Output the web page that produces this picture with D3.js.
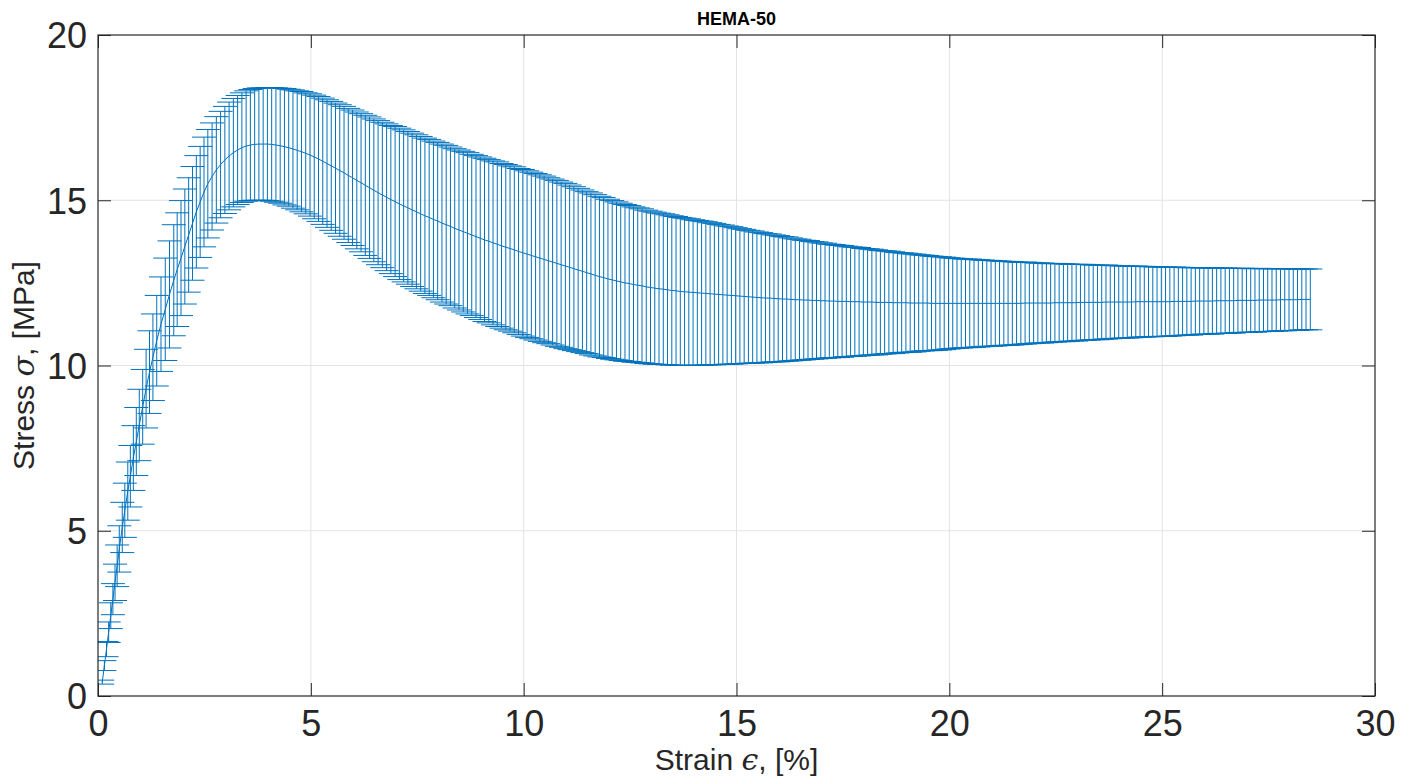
<!DOCTYPE html>
<html>
<head>
<meta charset="utf-8">
<script src="https://cdn.jsdelivr.net/npm/d3@7"></script>
<style>
  html, body { margin: 0; padding: 0; background: #fff; }
  #my_dataviz { width: 1417px; height: 782px; }
  text { font-family: "Liberation Sans", Arial, Helvetica, sans-serif; }
</style>
</head>
<body>
<div id="my_dataviz"></div>
<script>
// averaged tensile test, HEMA-50
var strain = [
  0.10, 0.15, 0.20, 0.25, 0.30, 0.35, 0.40, 0.45, 0.50, 0.57, 0.63, 0.70, 0.76, 0.83, 0.90, 0.97,
  1.05, 1.13, 1.21, 1.29, 1.38, 1.48, 1.58, 1.68, 1.78, 1.86, 1.95, 2.04, 2.13, 2.22, 2.31, 2.40,
  2.49, 2.58, 2.68, 2.78, 2.88, 2.98,
  3.08, 3.18, 3.28, 3.38, 3.48, 3.58, 3.68, 3.78, 3.88, 3.98,
  4.08, 4.18, 4.28, 4.38, 4.48, 4.58, 4.68, 4.78, 4.88, 4.98,
  5.08, 5.18, 5.28, 5.38, 5.48, 5.58, 5.68, 5.78, 5.88, 5.98,
  6.08, 6.18, 6.28, 6.38, 6.48, 6.58, 6.68, 6.78, 6.88, 6.98,
  7.08, 7.18, 7.28, 7.38, 7.48, 7.58, 7.68, 7.78, 7.88, 7.98,
  8.08, 8.18, 8.28, 8.38, 8.48, 8.58, 8.68, 8.78, 8.88, 8.98,
  9.08, 9.18, 9.28, 9.38, 9.48, 9.58, 9.68, 9.78, 9.88, 9.98,
  10.08, 10.18, 10.28, 10.38, 10.48, 10.58, 10.68, 10.78, 10.88, 10.98,
  11.08, 11.18, 11.28, 11.38, 11.48, 11.58, 11.68, 11.78, 11.88, 11.98,
  12.08, 12.18, 12.28, 12.38, 12.48, 12.58, 12.68, 12.78, 12.88, 12.98,
  13.08, 13.18, 13.28, 13.38, 13.48, 13.58, 13.68, 13.78, 13.88, 13.98,
  14.08, 14.18, 14.28, 14.38, 14.48, 14.58, 14.68, 14.78, 14.88, 14.98,
  15.08, 15.18, 15.28, 15.38, 15.48, 15.58, 15.68, 15.78, 15.88, 15.98,
  16.08, 16.18, 16.28, 16.38, 16.48, 16.58, 16.68, 16.78, 16.88, 16.98,
  17.08, 17.18, 17.28, 17.38, 17.48, 17.58, 17.68, 17.78, 17.88, 17.98,
  18.08, 18.18, 18.28, 18.38, 18.48, 18.58, 18.68, 18.78, 18.88, 18.98,
  19.08, 19.18, 19.28, 19.38, 19.48, 19.58, 19.68, 19.78, 19.88, 19.98,
  20.08, 20.18, 20.28, 20.38, 20.48, 20.58, 20.68, 20.78, 20.88, 20.98,
  21.08, 21.18, 21.28, 21.38, 21.48, 21.58, 21.68, 21.78, 21.88, 21.98,
  22.08, 22.18, 22.28, 22.38, 22.48, 22.58, 22.68, 22.78, 22.88, 22.98,
  23.08, 23.18, 23.28, 23.38, 23.48, 23.58, 23.68, 23.78, 23.88, 23.98,
  24.08, 24.18, 24.28, 24.38, 24.48, 24.58, 24.68, 24.78, 24.88, 24.98,
  25.08, 25.18, 25.28, 25.38, 25.48, 25.58, 25.68, 25.78, 25.88, 25.98,
  26.08, 26.18, 26.28, 26.38, 26.48, 26.58, 26.68, 26.78, 26.88, 26.98,
  27.08, 27.18, 27.28, 27.38, 27.48, 27.58, 27.68, 27.78, 27.88, 27.98,
  28.08, 28.18, 28.28, 28.38, 28.48
];

// mean stress [MPa]
var stressMean = [
  0.42, 0.92, 1.42, 1.93, 2.43, 2.93, 3.44, 3.94, 4.45, 5.10, 5.62, 6.20, 6.65, 7.20, 7.70, 8.20,
  8.75, 9.30, 9.80, 10.25, 10.75, 11.25, 11.70, 12.15, 12.58, 12.90, 13.25, 13.60, 13.95, 14.30, 14.65, 14.95,
  15.25, 15.50, 15.72, 15.92, 16.08, 16.22,
  16.34, 16.44, 16.52, 16.59, 16.64, 16.67, 16.69, 16.70, 16.70, 16.70,
  16.69, 16.67, 16.65, 16.62, 16.59, 16.55, 16.51, 16.47, 16.42, 16.37,
  16.31, 16.25, 16.18, 16.11, 16.04, 15.97, 15.90, 15.83, 15.75, 15.68,
  15.60, 15.53, 15.45, 15.38, 15.30, 15.23, 15.16, 15.09, 15.02, 14.96,
  14.89, 14.83, 14.77, 14.71, 14.65, 14.59, 14.53, 14.48, 14.42, 14.37,
  14.31, 14.26, 14.21, 14.15, 14.10, 14.05, 14.00, 13.95, 13.90, 13.85,
  13.80, 13.76, 13.71, 13.67, 13.62, 13.58, 13.54, 13.50, 13.45, 13.41,
  13.37, 13.33, 13.29, 13.25, 13.21, 13.17, 13.13, 13.09, 13.05, 13.01,
  12.97, 12.93, 12.89, 12.85, 12.81, 12.77, 12.73, 12.69, 12.66, 12.62,
  12.59, 12.56, 12.53, 12.50, 12.48, 12.45, 12.43, 12.41, 12.38, 12.36,
  12.34, 12.32, 12.31, 12.29, 12.27, 12.26, 12.24, 12.23, 12.22, 12.21,
  12.20, 12.19, 12.18, 12.17, 12.16, 12.15, 12.14, 12.13, 12.12, 12.11,
  12.10, 12.09, 12.08, 12.07, 12.06, 12.05, 12.04, 12.04, 12.03, 12.02,
  12.01, 12.01, 12.00, 11.99, 11.99, 11.98, 11.98, 11.97, 11.97, 11.96,
  11.96, 11.95, 11.95, 11.94, 11.94, 11.94, 11.93, 11.93, 11.93, 11.92,
  11.92, 11.92, 11.91, 11.91, 11.91, 11.91, 11.90, 11.90, 11.90, 11.90,
  11.89, 11.89, 11.89, 11.89, 11.89, 11.88, 11.88, 11.88, 11.88, 11.88,
  11.88, 11.88, 11.88, 11.88, 11.88, 11.88, 11.88, 11.88, 11.88, 11.88,
  11.88, 11.88, 11.88, 11.88, 11.88, 11.88, 11.88, 11.89, 11.89, 11.89,
  11.89, 11.89, 11.89, 11.89, 11.90, 11.90, 11.90, 11.90, 11.90, 11.90,
  11.91, 11.91, 11.91, 11.91, 11.91, 11.91, 11.92, 11.92, 11.92, 11.92,
  11.92, 11.92, 11.92, 11.93, 11.93, 11.93, 11.93, 11.93, 11.93, 11.93,
  11.93, 11.93, 11.94, 11.94, 11.94, 11.94, 11.94, 11.95, 11.95, 11.95,
  11.95, 11.95, 11.96, 11.96, 11.96, 11.96, 11.96, 11.97, 11.97, 11.97,
  11.97, 11.97, 11.98, 11.98, 11.98, 11.98, 11.98, 11.99, 11.99, 11.99,
  11.99, 11.99, 12.00, 12.00, 12.00
];

// standard deviation of stress [MPa]
var stressErr = [
  0.06, 0.15, 0.23, 0.31, 0.39, 0.47, 0.55, 0.63, 0.70, 0.76, 0.82, 0.88, 0.93, 0.98, 1.03, 1.08,
  1.13, 1.19, 1.25, 1.31, 1.37, 1.43, 1.55, 1.62, 1.68, 1.72, 1.74, 1.74, 1.73, 1.72, 1.70, 1.68,
  1.66, 1.64, 1.62, 1.61, 1.61, 1.62,
  1.63, 1.64, 1.65, 1.66, 1.67, 1.68, 1.69, 1.70, 1.70, 1.71,
  1.72, 1.73, 1.74, 1.76, 1.77, 1.79, 1.80, 1.82, 1.83, 1.85,
  1.87, 1.89, 1.91, 1.93, 1.95, 1.97, 1.99, 2.01, 2.03, 2.05,
  2.07, 2.09, 2.12, 2.14, 2.16, 2.18, 2.20, 2.22, 2.24, 2.27,
  2.29, 2.30, 2.31, 2.32, 2.33, 2.34, 2.35, 2.36, 2.37, 2.38,
  2.39, 2.40, 2.40, 2.41, 2.42, 2.43, 2.44, 2.44, 2.45, 2.46,
  2.47, 2.47, 2.48, 2.49, 2.49, 2.50, 2.50, 2.51, 2.51, 2.52,
  2.52, 2.52, 2.52, 2.52, 2.52, 2.51, 2.51, 2.51, 2.50, 2.50,
  2.49, 2.48, 2.47, 2.46, 2.45, 2.45, 2.44, 2.43, 2.42, 2.41,
  2.40, 2.39, 2.38, 2.37, 2.36, 2.35, 2.34, 2.33, 2.32, 2.31,
  2.30, 2.29, 2.28, 2.27, 2.26, 2.25, 2.24, 2.23, 2.22, 2.20,
  2.19, 2.18, 2.17, 2.15, 2.14, 2.12, 2.11, 2.09, 2.08, 2.06,
  2.04, 2.03, 2.01, 2.00, 1.98, 1.97, 1.95, 1.94, 1.92, 1.91,
  1.89, 1.88, 1.86, 1.84, 1.83, 1.81, 1.80, 1.78, 1.77, 1.75,
  1.74, 1.72, 1.71, 1.70, 1.69, 1.67, 1.66, 1.65, 1.64, 1.62,
  1.61, 1.60, 1.59, 1.57, 1.56, 1.55, 1.54, 1.52, 1.51, 1.50,
  1.49, 1.48, 1.46, 1.45, 1.44, 1.43, 1.42, 1.41, 1.40, 1.38,
  1.37, 1.36, 1.35, 1.34, 1.34, 1.33, 1.32, 1.31, 1.30, 1.30,
  1.29, 1.28, 1.27, 1.27, 1.26, 1.25, 1.24, 1.24, 1.23, 1.22,
  1.21, 1.21, 1.20, 1.19, 1.19, 1.18, 1.18, 1.17, 1.16, 1.16,
  1.15, 1.15, 1.14, 1.13, 1.13, 1.12, 1.12, 1.11, 1.10, 1.10,
  1.09, 1.09, 1.08, 1.08, 1.07, 1.07, 1.06, 1.06, 1.05, 1.05,
  1.05, 1.04, 1.04, 1.03, 1.03, 1.02, 1.02, 1.01, 1.01, 1.00,
  1.00, 1.00, 0.99, 0.99, 0.99, 0.98, 0.98, 0.97, 0.97, 0.97,
  0.96, 0.96, 0.96, 0.95, 0.95, 0.95, 0.94, 0.94, 0.94, 0.93,
  0.93, 0.93, 0.92, 0.92, 0.92
];

var xTicks = [0, 5, 10, 15, 20, 25, 30];
var yTicks = [0, 5, 10, 15, 20];
var titleText = "HEMA-50";

var W = 1417, H = 782;
var margin = {top: 35, right: 42, bottom: 86, left: 98};
var width = W - margin.left - margin.right,
    height = H - margin.top - margin.bottom;
var lineColor = "#0072BD", axisColor = "#262626";

var svg = d3.select("#my_dataviz")
  .append("svg")
  .attr("width", W)
  .attr("height", H)
  .style("display", "block");

var g = svg.append("g")
  .attr("transform", "translate(" + margin.left + "," + margin.top + ")");

var x = d3.scaleLinear().domain([0, 30]).range([0, width]);
var y = d3.scaleLinear().domain([0, 20]).range([height, 0]);

// grid
g.append("g").selectAll("line.gx")
  .data(xTicks.slice(1, -1))
  .enter().append("line")
  .attr("x1", d => x(d)).attr("x2", d => x(d))
  .attr("y1", 0).attr("y2", height)
  .attr("stroke", "#e3e3e3").attr("stroke-width", 1);
g.append("g").selectAll("line.gy")
  .data(yTicks.slice(1, -1))
  .enter().append("line")
  .attr("x1", 0).attr("x2", width)
  .attr("y1", d => y(d)).attr("y2", d => y(d))
  .attr("stroke", "#e3e3e3").attr("stroke-width", 1);

// error bars, clipped to the axes box
svg.append("defs").append("clipPath").attr("id", "plotclip")
  .append("rect").attr("x", 0).attr("y", 0).attr("width", width).attr("height", height);

var pts = strain.map((s, i) => ({s: s, m: stressMean[i], e: stressErr[i]}));
var capHalf = 12;

var eb = g.append("g").attr("clip-path", "url(#plotclip)")
  .attr("stroke", lineColor).attr("stroke-width", 1).attr("fill", "none");

eb.selectAll("path.bar")
  .data(pts)
  .enter().append("path")
  .attr("d", function(d) {
    var px = x(d.s), lo = y(d.m - d.e), hi = y(d.m + d.e);
    return "M" + px + "," + lo + "V" + hi +
      "M" + (px - capHalf) + "," + hi + "H" + (px + capHalf) +
      "M" + (px - capHalf) + "," + lo + "H" + (px + capHalf);
  });

eb.append("path")
  .datum(pts)
  .attr("d", d3.line().x(d => x(d.s)).y(d => y(d.m)));

// axes with inward ticks on all four sides
function styleAxis(sel) {
  sel.select(".domain").remove();
  sel.selectAll("line").attr("stroke", axisColor);
  sel.selectAll("text").attr("fill", axisColor).style("font-size", "36px")
    .style("font-family", "'Liberation Sans', Arial, sans-serif");
}
g.append("g").attr("transform", "translate(0," + height + ")")
  .call(d3.axisBottom(x).tickValues(xTicks).tickSizeInner(-13).tickSizeOuter(0).tickPadding(14))
  .call(styleAxis);
g.append("g")
  .call(d3.axisLeft(y).tickValues(yTicks).tickSizeInner(-13).tickSizeOuter(0).tickPadding(11))
  .call(styleAxis)
  .selectAll("text").attr("dy", "0.36em");
g.append("g")
  .call(d3.axisTop(x).tickValues(xTicks).tickSizeInner(-13).tickSizeOuter(0).tickFormat(""))
  .call(styleAxis);
g.append("g").attr("transform", "translate(" + width + ",0)")
  .call(d3.axisRight(y).tickValues(yTicks).tickSizeInner(-13).tickSizeOuter(0).tickFormat(""))
  .call(styleAxis);

// box
g.append("rect")
  .attr("x", 0).attr("y", 0).attr("width", width).attr("height", height)
  .attr("fill", "none").attr("stroke", axisColor).attr("stroke-width", 1.2);

// labels
var xl = svg.append("text")
  .attr("x", margin.left + width / 2).attr("y", 770)
  .attr("text-anchor", "middle").attr("fill", axisColor).style("font-size", "30px");
xl.append("tspan").text("Strain ");
xl.append("tspan").style("font-family", "'DejaVu Serif', serif").style("font-style", "italic").text("\u03F5");
xl.append("tspan").text(", [%]");

var yl = svg.append("text")
  .attr("transform", "translate(34," + (margin.top + height / 2) + ") rotate(-90)")
  .attr("text-anchor", "middle").attr("fill", axisColor).style("font-size", "30px");
yl.append("tspan").text("Stress ");
yl.append("tspan").style("font-family", "'DejaVu Serif', serif").style("font-style", "italic").text("\u03C3");
yl.append("tspan").text(", [MPa]");

svg.append("text")
  .attr("x", margin.left + width / 2).attr("y", 25)
  .attr("text-anchor", "middle").attr("fill", "#000")
  .style("font-size", "18px").style("font-weight", "bold")
  .text(titleText);
</script>
</body>
</html>
